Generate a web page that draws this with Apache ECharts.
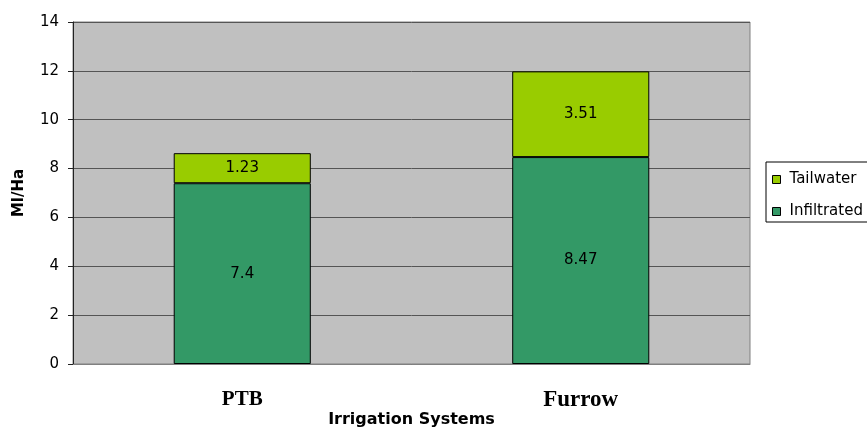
<!DOCTYPE html>
<html>
<head>
<meta charset="utf-8">
<script src="https://cdn.jsdelivr.net/npm/echarts@6/dist/echarts.min.js"></script>
<style>html,body{margin:0;padding:0;background:#fff}#c{width:867px;height:429px}</style>
</head>
<body>
<div id="c"></div>
<script>
var categories = ['PTB', 'Furrow'];
var infiltrated = [7.4, 8.47];
var tailwater = [1.23, 3.51];
var yTicks = [0, 2, 4, 6, 8, 10, 12, 14];

var SANS = 'DejaVu Sans, Verdana, sans-serif';
var SERIF = 'Liberation Serif, Times New Roman, serif';

var chart = echarts.init(document.getElementById('c'));
chart.setOption({
  animation: false,
  grid: {
    left: 73, right: 117, top: 22, bottom: 65,
    outerBoundsMode: 'none',
    containLabel: false,
    show: true, backgroundColor: '#c0c0c0', borderColor: '#808080', borderWidth: 1
  },
  legend: {
    orient: 'vertical',
    left: 766, top: 162,
    data: ['Tailwater', 'Infiltrated'],
    icon: 'rect',
    itemWidth: 8, itemHeight: 8, itemGap: 17,
    padding: [10, 30, 3, 6],
    borderColor: '#000', borderWidth: 1,
    itemStyle: { borderColor: '#000', borderWidth: 1 },
    textStyle: { fontFamily: SANS, fontSize: 15, color: '#000', padding: [0, 0, 0, 4] }
  },
  xAxis: {
    type: 'category',
    data: categories,
    name: 'Irrigation Systems',
    nameLocation: 'middle',
    nameGap: 48,
    nameMoveOverlap: false,
    nameTextStyle: { fontFamily: SANS, fontWeight: 'bold', fontSize: 16, color: '#000' },
    axisLine: { lineStyle: { color: '#808080' } },
    axisTick: { show: false },
    axisLabel: {
      margin: 25,
      formatter: function (v) { return v === 'PTB' ? '{a|' + v + '}' : '{b|' + v + '}'; },
      rich: {
        a: { fontFamily: SERIF, fontWeight: 'bold', fontSize: 21, color: '#000' },
        b: { fontFamily: SERIF, fontWeight: 'bold', fontSize: 23, color: '#000' }
      }
    }
  },
  yAxis: {
    type: 'value',
    min: yTicks[0], max: yTicks[yTicks.length - 1], interval: 2,
    name: 'Ml/Ha',
    nameLocation: 'middle',
    nameGap: 46,
    nameMoveOverlap: false,
    nameTextStyle: { fontFamily: SANS, fontWeight: 'bold', fontSize: 15, color: '#000' },
    axisLine: { show: true, lineStyle: { color: '#222' } },
    axisTick: { show: true, length: 5, lineStyle: { color: '#222' } },
    axisLabel: { fontFamily: SANS, fontSize: 15, color: '#000', margin: 14 },
    splitLine: { show: true, lineStyle: { color: '#555', width: 1 } }
  },
  series: [
    {
      name: 'Infiltrated', type: 'bar', stack: 's', data: infiltrated,
      barWidth: '40.5%',
      itemStyle: { color: '#339966', borderColor: '#000', borderWidth: 1 },
      label: { show: true, position: 'inside', color: '#000', fontFamily: SANS, fontSize: 15 }
    },
    {
      name: 'Tailwater', type: 'bar', stack: 's', data: tailwater,
      barWidth: '40.5%',
      itemStyle: { color: '#99cc00', borderColor: '#000', borderWidth: 1 },
      label: { show: true, position: 'inside', color: '#000', fontFamily: SANS, fontSize: 15 }
    }
  ]
});
</script>
</body>
</html>
